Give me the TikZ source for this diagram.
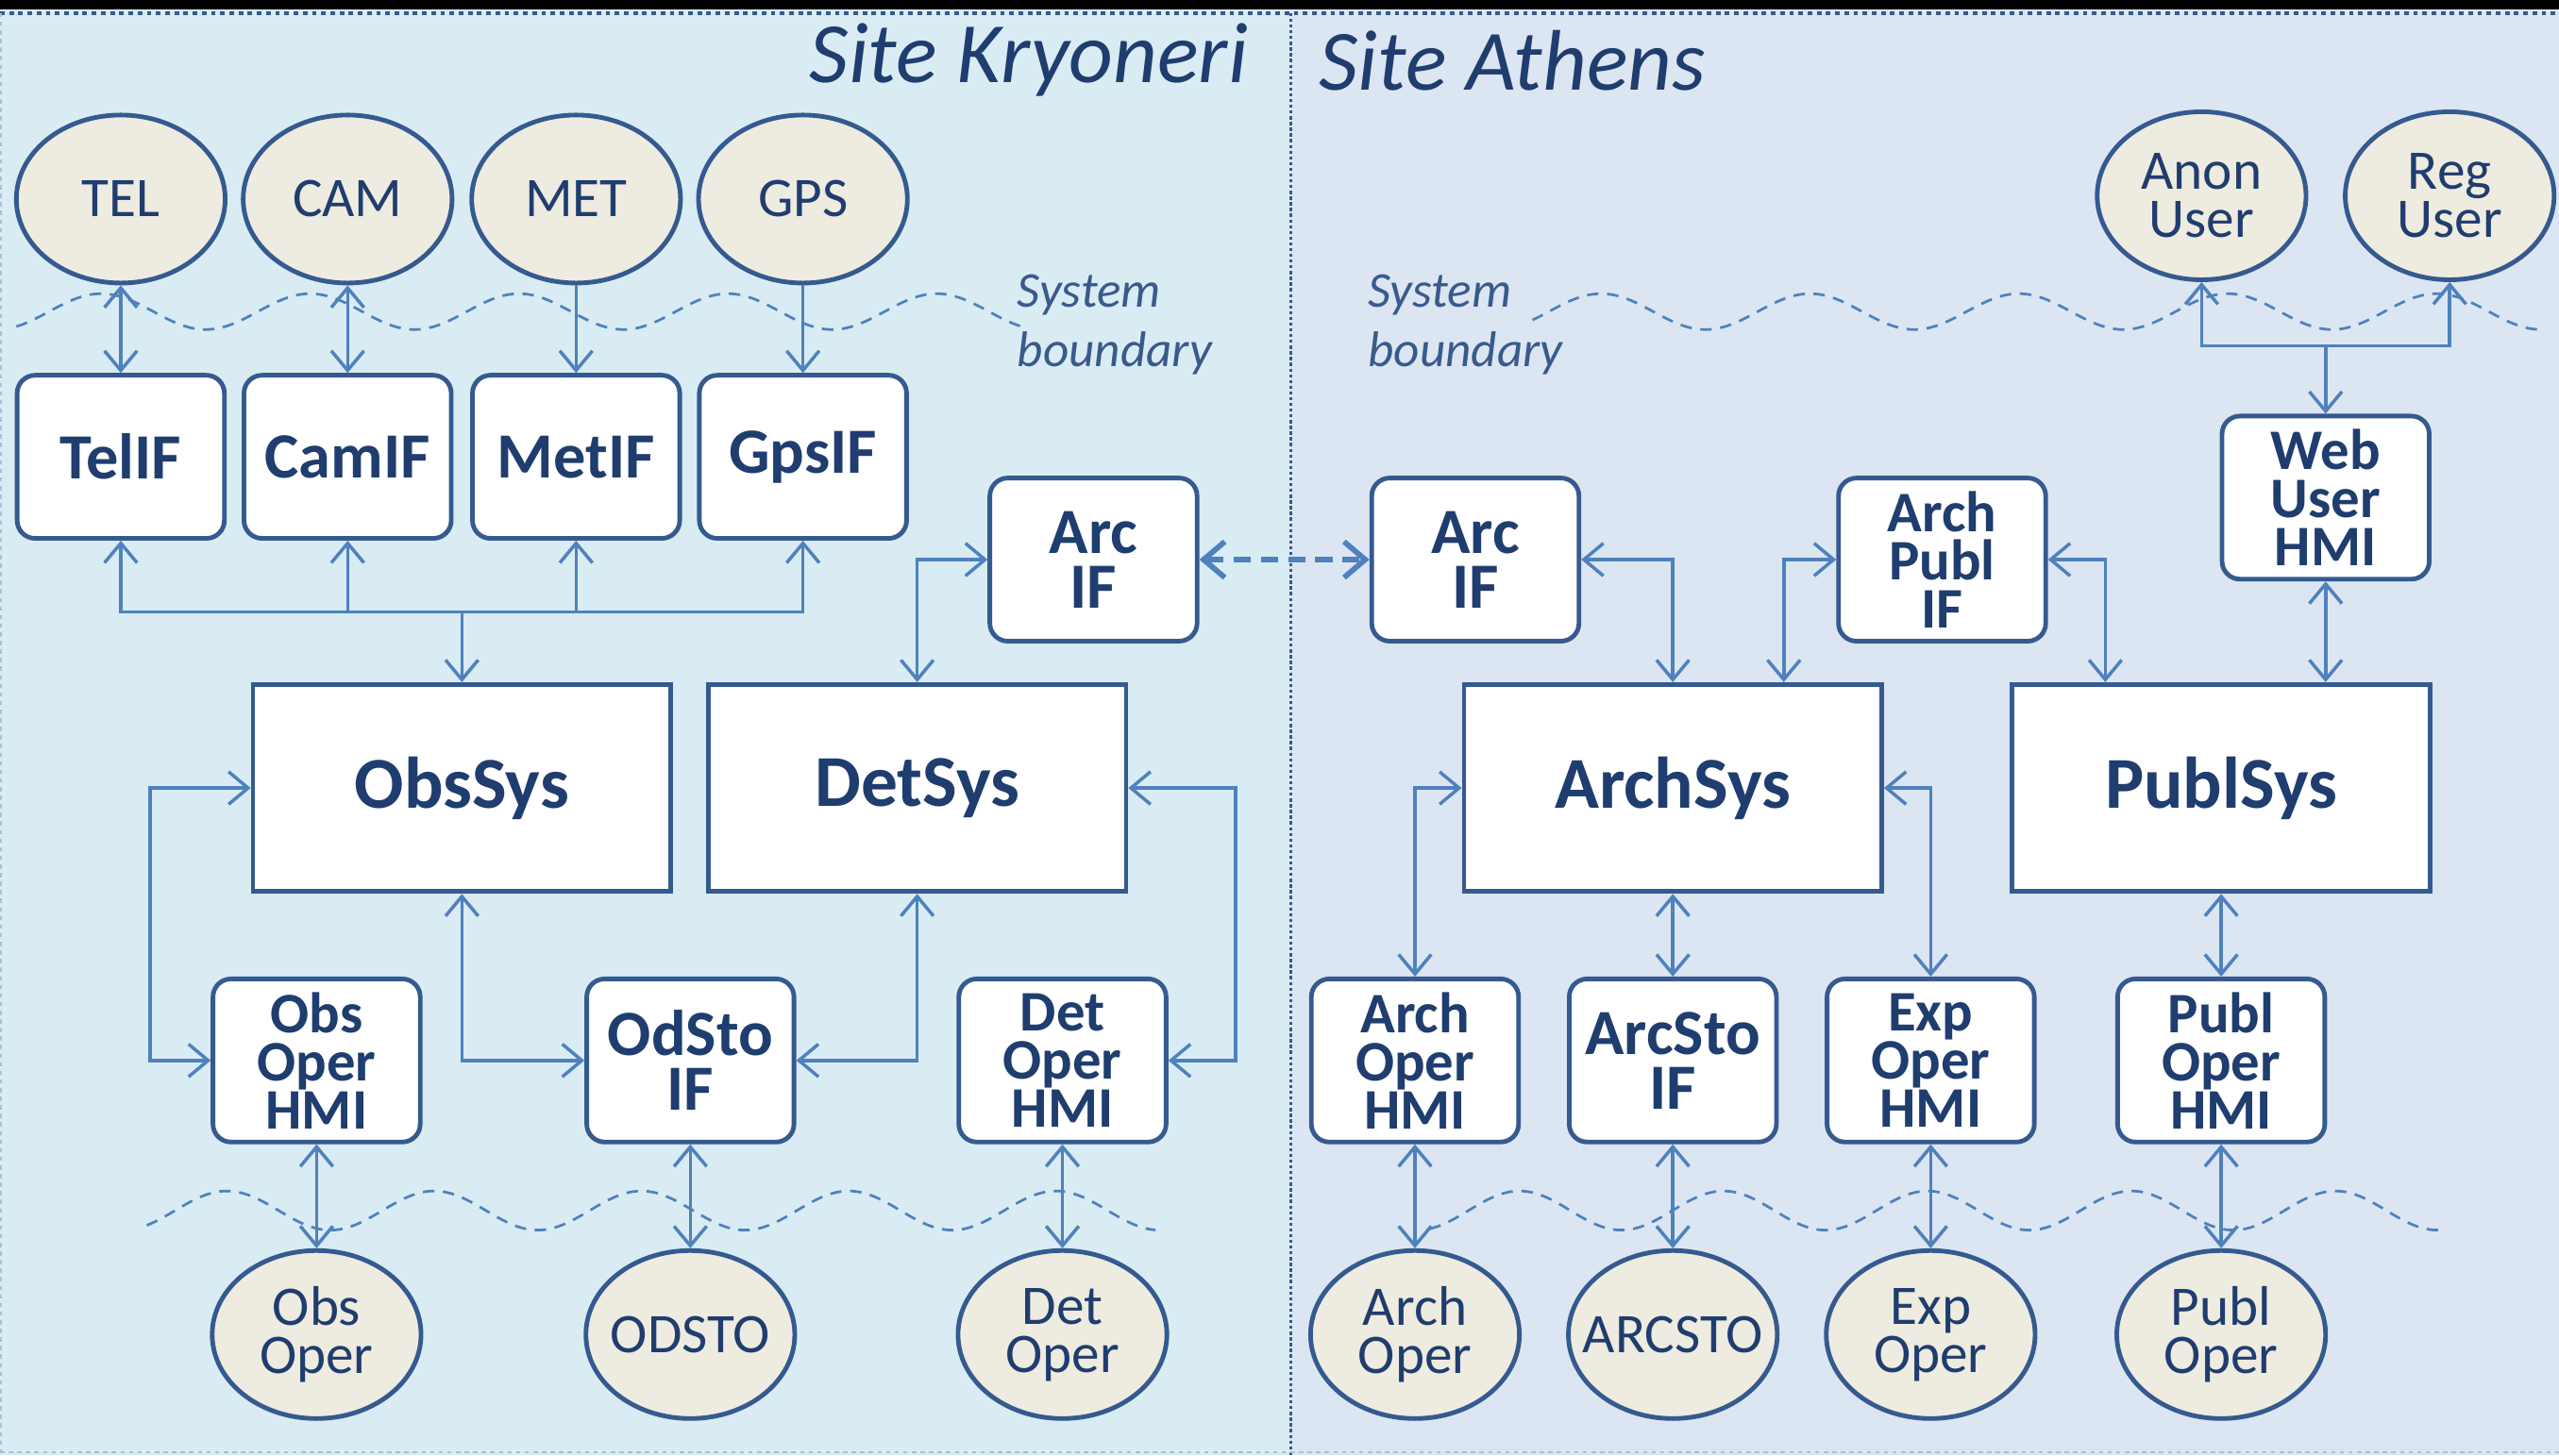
\documentclass[tikz,border=0pt]{standalone}
\usepackage{fontspec}
\setmainfont{Carlito}
\usetikzlibrary{shapes.geometric,arrows.meta,calc}
\definecolor{bgL}{HTML}{D9ECF3}
\definecolor{bgR}{HTML}{DCE6F2}
\definecolor{bord}{HTML}{355A8F}
\definecolor{txt}{HTML}{1F3D6E}
\definecolor{sbtxt}{HTML}{3A5A8C}
\definecolor{cblue}{HTML}{4F81BD}
\definecolor{beige}{HTML}{EEEBE0}
\definecolor{faint}{HTML}{A9BFD5}
\newcommand\ctr[1]{\makebox[\linewidth][c]{#1}}
\tikzset{
 ext/.style={ellipse, draw=bord, line width=1.6pt, fill=beige, minimum width=2.56cm, minimum height=2.06cm, inner sep=0pt, text width=1.7cm, align=center, text=txt, font=\fontsize{19.5}{16.8}\selectfont},
 ifbox/.style={rectangle, rounded corners=0.22cm, draw=bord, line width=1.6pt, fill=white, minimum width=2.54cm, minimum height=2.0cm, inner sep=0pt, align=center, text=txt, font=\fontsize{22.5}{19}\selectfont\bfseries},
 hmibox/.style={ifbox, font=\fontsize{20}{16.8}\selectfont\bfseries},
 sysbox/.style={rectangle, draw=bord, line width=1.6pt, fill=white, minimum width=5.12cm, minimum height=2.54cm, text=txt, font=\fontsize{25.5}{30}\selectfont\bfseries},
 conn/.style={draw=cblue, line width=1.15pt},
 dconn/.style={draw=cblue, line width=1.9pt, dash pattern=on 6pt off 3.5pt, >={Straight Barb[length=0.26cm,width=0.44cm]}},
 wave/.style={draw=cblue, line width=0.9pt, dash pattern=on 4pt off 3pt},
 ttl/.style={text=txt, font=\fontsize{30}{36}\selectfont\itshape, inner sep=0pt},
 sblabel/.style={text=sbtxt, font=\fontsize{17.5}{21}\selectfont\itshape, align=left, inner sep=0pt},
}
\begin{document}
\begin{tikzpicture}[x=0.02cm,y=-0.02cm,>={Straight Barb[length=0.24cm,width=0.4cm]}]
\useasboundingbox (0,0) rectangle (1568,892);
% backgrounds
\fill[bgL] (0,0) rectangle (791,892);
\fill[bgR] (791,0) rectangle (1568,892);
\fill[black] (0,0) rectangle (1568,6);
\draw[bord, line width=1.3pt, dash pattern=on 1.6pt off 1.6pt] (0,8) -- (1568,8);
\draw[bord, line width=1.2pt, dash pattern=on 1.1pt off 0.9pt] (791,8) -- (791,892);
\draw[faint, line width=0.6pt, dash pattern=on 1.5pt off 1.5pt] (0.5,8) -- (0.5,892);
\draw[faint, line width=0.6pt, dash pattern=on 1.5pt off 1.5pt] (0,890) -- (1568,890);
% titles
\node[ttl, anchor=east] (tK) at (765,37) {Site Kryoneri};
\node[ttl, anchor=west] (tA) at (808,37) {Site Athens};
\node[sblabel, anchor=west] (sbL) at (623,199) {System\\boundary};
\node[sblabel, anchor=west] (sbR) at (838,199) {System\\boundary};
% system boundaries
\draw[wave] plot[domain=10:625,samples=140,smooth] (\x,{191-11*cos((\x-62)*2.8125)});
\draw[wave] plot[domain=939:1556,samples=140,smooth] (\x,{191-11*cos((\x-981)*2.8125)});
\draw[wave] plot[domain=90:708,samples=140,smooth] (\x,{742-12*cos((\x-139)*2.8346)});
\draw[wave] plot[domain=876:1499,samples=140,smooth] (\x,{742-12*cos((\x-931)*2.88)});
% ---- Kryoneri nodes
\node[ext] (tel) at (74,122) {TEL};
\node[ext] (cam) at (213,122) {CAM};
\node[ext] (met) at (353,122) {MET};
\node[ext] (gps) at (492,122) {GPS};
\node[ifbox] (telif) at (74,280) {TelIF};
\node[ifbox] (camif) at (213,280) {CamIF};
\node[ifbox] (metif) at (353,280) {MetIF};
\node[ifbox] (gpsif) at (492,280) {GpsIF};
\node[ifbox] (arcl) at (670,343) {Arc\\IF};
\node[sysbox] (obs) at (283,483) {ObsSys};
\node[sysbox] (det) at (562,483) {DetSys};
\node[hmibox] (obsh) at (194,650) {Obs\\Oper\\HMI};
\node[ifbox] (odsif) at (423,650) {OdSto\\IF};
\node[hmibox] (deth) at (651,650) {Det\\Oper\\HMI};
\node[ext] (obsop) at (194,818) {Obs\\Oper};
\node[ext] (odsto) at (423,818) {\ctr{ODSTO}};
\node[ext] (detop) at (651,818) {Det\\Oper};
% ---- Athens nodes
\node[ext] (anon) at (1349,120) {Anon\\User};
\node[ext] (reg) at (1501,120) {Reg\\User};
\node[hmibox] (web) at (1425,305) {Web\\User\\HMI};
\node[ifbox] (arcr) at (904,343) {Arc\\IF};
\node[hmibox] (archpub) at (1190,343) {Arch\\Publ\\IF};
\node[sysbox] (arch) at (1025,483) {ArchSys};
\node[sysbox] (publ) at (1361,483) {PublSys};
\node[hmibox] (archh) at (867,650) {Arch\\Oper\\HMI};
\node[ifbox] (arcsif) at (1025,650) {ArcSto\\IF};
\node[hmibox] (exph) at (1183,650) {Exp\\Oper\\HMI};
\node[hmibox] (publh) at (1361,650) {Publ\\Oper\\HMI};
\node[ext] (archop) at (867,818) {Arch\\Oper};
\node[ext] (arcsto) at (1025,818) {\ctr{ARCSTO}};
\node[ext] (expop) at (1183,818) {Exp\\Oper};
\node[ext] (publop) at (1361,818) {Publ\\Oper};
% helper coordinates
\coordinate (busy) at (0,375);
\coordinate (lx) at (92,0);
\coordinate (rx) at (757,0);
\coordinate (a2) at (1093,0);
\coordinate (p1) at (1290,0);
\coordinate (wy) at (0,212);
% ---- Kryoneri connectors
\draw[conn,<->] (tel.south) -- (telif.north);
\draw[conn,<->] (cam.south) -- (camif.north);
\draw[conn,->] (met.south) -- (metif.north);
\draw[conn,->] (gps.south) -- (gpsif.north);
\draw[conn,<->] (telif.south) -- (telif.south |- busy) -- (gpsif.south |- busy) -- (gpsif.south);
\draw[conn,->] (camif.south |- busy) -- (camif.south);
\draw[conn,->] (metif.south |- busy) -- (metif.south);
\draw[conn,->] (obs.north |- busy) -- (obs.north);
\draw[conn,<->] (det.north) |- (arcl.west);
\draw[dconn,<->] (arcl.east) -- (arcr.west);
\draw[conn,<->] (obs.west) -- (obs.west -| lx) -- (obsh.west -| lx) -- (obsh.west);
\draw[conn,<->] (obs.south) |- (odsif.west);
\draw[conn,<->] (det.south) |- (odsif.east);
\draw[conn,<->] (det.east) -- (det.east -| rx) -- (deth.east -| rx) -- (deth.east);
\draw[conn,<->] (obsh.south) -- (obsop.north);
\draw[conn,<->] (odsif.south) -- (odsto.north);
\draw[conn,<->] (deth.south) -- (detop.north);
% ---- Athens connectors
\draw[conn,<->] (arcr.east) -| (arch.north);
\draw[conn,<->] (arch.north -| a2) |- (archpub.west);
\draw[conn,<->] (archpub.east) -| (publ.north -| p1);
\draw[conn,<->] (web.south) -- (web.south |- publ.north);
\draw[conn,<->] (anon.south) -- (anon.south |- wy) -- (reg.south |- wy) -- (reg.south);
\draw[conn,->] (web.north |- wy) -- (web.north);
\draw[conn,<->] (arch.west) -| (archh.north);
\draw[conn,<->] (arch.south) -- (arcsif.north);
\draw[conn,<->] (arch.east) -| (exph.north);
\draw[conn,<->] (publ.south) -- (publh.north);
\draw[conn,<->] (archh.south) -- (archop.north);
\draw[conn,<->] (arcsif.south) -- (arcsto.north);
\draw[conn,<->] (exph.south) -- (expop.north);
\draw[conn,<->] (publh.south) -- (publop.north);
\end{tikzpicture}
\end{document}
